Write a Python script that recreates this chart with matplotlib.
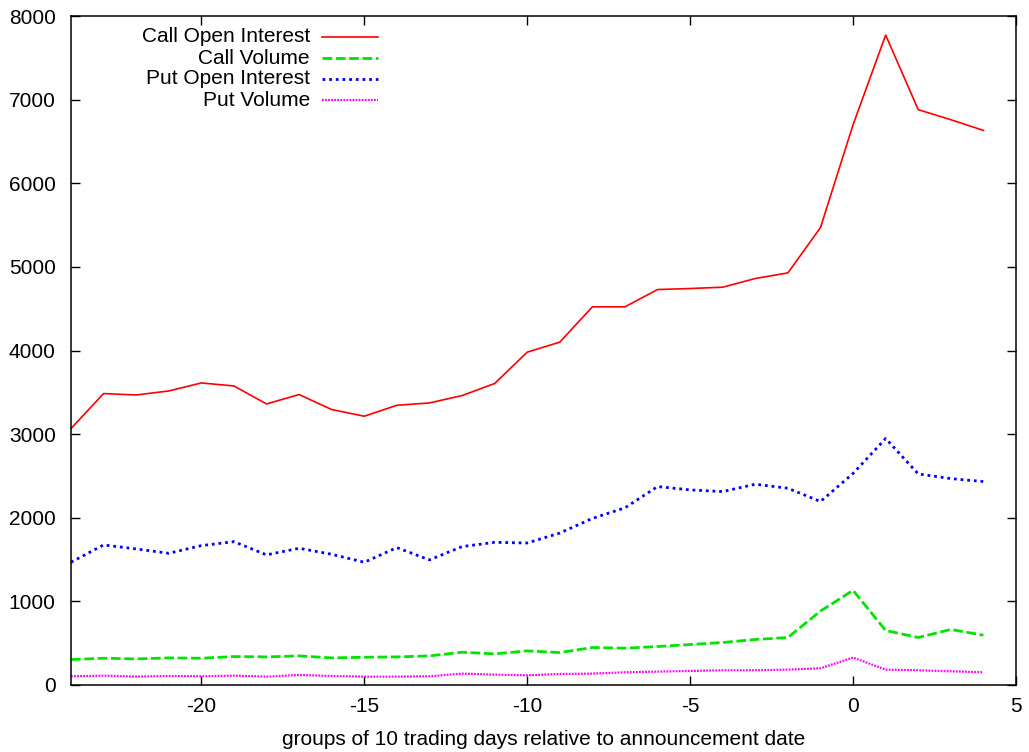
import matplotlib
matplotlib.use('Agg')
import matplotlib.pyplot as plt
from matplotlib.lines import Line2D

plt.rcParams['font.family'] = ['Liberation Sans', 'DejaVu Sans']
plt.rcParams['font.size'] = 15
plt.rcParams['axes.unicode_minus'] = False
plt.rcParams['lines.scale_dashes'] = False

# groups of 10 trading days relative to the announcement date
groups = list(range(-24, 5))

call_oi = [3067, 3485, 3468, 3516, 3612, 3576, 3361, 3473, 3294, 3214,
           3345, 3373, 3461, 3605, 3980, 4100, 4522, 4522, 4729, 4741,
           4757, 4861, 4928, 5470, 6700, 7772, 6880, 6760, 6632]
call_vol = [304, 320, 312, 324, 320, 340, 336, 348, 324, 332,
            336, 348, 392, 372, 408, 388, 448, 440, 460, 484,
            508, 544, 568, 884, 1132, 652, 568, 664, 596]
put_oi = [1468, 1675, 1627, 1575, 1667, 1714, 1556, 1635, 1563, 1468,
          1643, 1496, 1655, 1706, 1698, 1817, 1992, 2119, 2373, 2333,
          2313, 2401, 2353, 2194, 2530, 2948, 2524, 2468, 2433]
put_vol = [104, 112, 100, 108, 104, 112, 100, 120, 108, 100,
           100, 104, 136, 124, 116, 132, 136, 152, 160, 168,
           176, 176, 184, 200, 328, 184, 176, 164, 152]

series = [
    ('Call Open Interest', call_oi, dict(color='#ff0000', lw=1.2, ls='-')),
    ('Call Volume', call_vol, dict(color='#00e400', lw=2.0, dashes=(7, 2.6))),
    ('Put Open Interest', put_oi, dict(color='#0000ff', lw=2.0, dashes=(2, 2.8))),
    ('Put Volume', put_vol, dict(color='#ff00ff', lw=1.6, dashes=(1.3, 0.9))),
]

fig = plt.figure(figsize=(10.29, 7.52), dpi=100)
ax = fig.add_axes([71 / 1029, 1 - 685 / 752, (1016 - 71) / 1029, (685 - 16) / 752])

for name, vals, style in series:
    ax.plot(groups, vals, **style)

ax.set_xlim(-24, 5)
ax.set_ylim(0, 8000)
ax.set_xticks([-20, -15, -10, -5, 0, 5])
ax.set_yticks(range(0, 8001, 1000))
ax.tick_params(direction='in', length=6.5, width=1, top=True, right=True, labelsize=15)
ax.tick_params(axis='y', pad=11)
ax.tick_params(axis='x', pad=9)
for s in ax.spines.values():
    s.set_linewidth(1.1)
ax.set_xlabel('groups of 10 trading days relative to announcement date', fontsize=15, labelpad=10)

# gnuplot-style key: right-aligned text, sample line to its right
row_y = [37, 58, 79, 100]
for (name, vals, style), py in zip(series, row_y):
    yf = 1 - py / 752
    fig.text(310 / 1029, yf, name, ha='right', va='center', fontsize=15)
    fig.add_artist(Line2D([322 / 1029, 378 / 1029], [yf, yf], transform=fig.transFigure, **style))

fig.savefig('out.png', dpi=100)
